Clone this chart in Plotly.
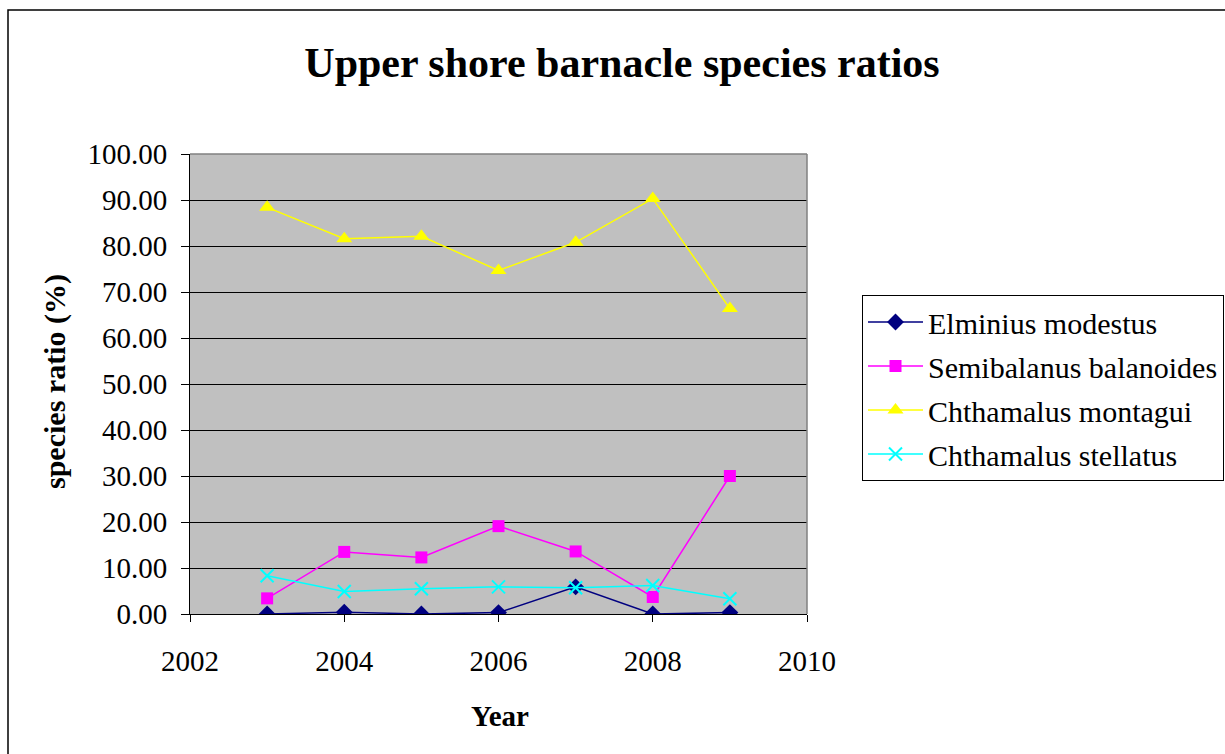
import plotly.graph_objects as go

# Survey years and species ratios (%) on the upper shore
years = [2003, 2004, 2005, 2006, 2007, 2008, 2009]
elminius_modestus = [0.0, 0.4, 0.0, 0.3, 5.9, 0.0, 0.3]
semibalanus_balanoides = [3.4, 13.5, 12.3, 19.1, 13.6, 3.7, 30.0]
chthamalus_montagui = [88.4, 81.6, 82.1, 74.7, 80.8, 90.3, 66.4]
chthamalus_stellatus = [8.3, 4.9, 5.5, 5.9, 5.7, 6.2, 3.3]

x_ticks = [2002, 2004, 2006, 2008, 2010]
y_ticks = [0, 10, 20, 30, 40, 50, 60, 70, 80, 90, 100]

W, H = 1225, 754
L, R, T, B = 190, 807, 154, 614
FONT = "Liberation Serif"

series = [
    ("Elminius modestus", elminius_modestus, "#000080", "diamond", 13),
    ("Semibalanus balanoides", semibalanus_balanoides, "#FF00FF", "square", 12),
    ("Chthamalus montagui", chthamalus_montagui, "#FFFF00", "triangle-up", 14),
    ("Chthamalus stellatus", chthamalus_stellatus, "#00FFFF", "x-thin-open", 13),
]

fig = go.Figure()
for i, (name, vals, color, symbol, size) in enumerate(series):
    marker = dict(symbol=symbol, size=size, color=color)
    if symbol.endswith("open"):
        marker["line"] = dict(color=color, width=2)
    fig.add_trace(go.Scatter(
        x=years, y=vals, name=name, mode="lines+markers",
        line=dict(color=color, width=1.5),
        marker=marker,
        legendgroup=f"g{i}",
    ))


def px(x):
    return (x - L) / (R - L)


def py(y):
    return (B - y) / (B - T)


fig.update_layout(
    width=W, height=H,
    margin=dict(l=L, r=W - R, t=T, b=H - B, pad=0, autoexpand=False),
    paper_bgcolor="white",
    plot_bgcolor="#C0C0C0",
    font=dict(family=FONT, size=29, color="black"),
    title=dict(
        text="<b>Upper shore barnacle species ratios</b>",
        font=dict(family=FONT, size=42, color="black"),
        x=622 / W, xanchor="center", xref="container",
        y=1 - 62 / H, yanchor="middle", yref="container",
    ),
    xaxis=dict(
        range=[2002, 2010], tickvals=x_ticks,
        ticktext=[str(v) for v in x_ticks],
        ticks="outside", ticklen=7, tickcolor="black",
        showgrid=False, zeroline=False,
        showline=True, linecolor="black", linewidth=1,
        tickfont=dict(family=FONT, size=29),
        ticklabelstandoff=14,
    ),
    yaxis=dict(
        range=[0, 100], tickvals=y_ticks,
        ticktext=[f"{v:.2f}" for v in y_ticks],
        ticks="outside", ticklen=8, tickcolor="black",
        showgrid=True, gridcolor="black", gridwidth=1,
        zeroline=False,
        showline=True, linecolor="black", linewidth=1,
        tickfont=dict(family=FONT, size=29),
        ticklabelstandoff=8,
    ),
    legend=dict(
        x=px(862), y=py(295), xanchor="left", yanchor="top",
        bgcolor="white", bordercolor="black", borderwidth=1,
        font=dict(family=FONT, size=30),
        itemwidth=55,
        tracegroupgap=2,
    ),
    showlegend=True,
)

# Axis titles
fig.add_annotation(
    text="<b>Year</b>", xref="paper", yref="paper",
    x=px(500), y=py(716), xanchor="center", yanchor="middle",
    showarrow=False, font=dict(family=FONT, size=29),
)
fig.add_annotation(
    text="<b>species ratio (%)</b>", xref="paper", yref="paper",
    x=px(55), y=py(382), xanchor="center", yanchor="middle",
    textangle=-90, showarrow=False, font=dict(family=FONT, size=30),
)

# Plot-area frame on the top and right, and the outer chart border
fig.add_shape(type="line", xref="paper", yref="paper", x0=0, x1=1, y0=1, y1=1,
              line=dict(color="#808080", width=1.5))
fig.add_shape(type="line", xref="paper", yref="paper", x0=1, x1=1, y0=0, y1=1,
              line=dict(color="#808080", width=1.5))
fig.add_shape(type="rect", xref="paper", yref="paper",
              x0=px(8), x1=px(W + 20), y0=py(H + 20), y1=py(10),
              line=dict(color="black", width=1.5), fillcolor="rgba(0,0,0,0)",
              layer="below")

fig.write_html("out.html")
